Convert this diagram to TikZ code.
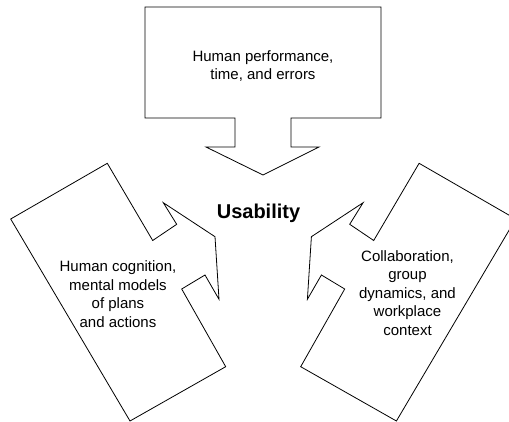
\documentclass[tikz,border=0pt]{standalone}
\usepackage{fontspec}
\setmainfont{Liberation Sans}
\begin{document}
\begin{tikzpicture}[x=1pt, y=-1pt,
  callout/.style={draw=black, line width=0.8pt, line join=miter, fill=white},
  boxtext/.style={align=center, inner sep=0pt, font=\fontsize{15}{18.5}\selectfont},
  hubtext/.style={inner sep=0pt, font=\bfseries\fontsize{20}{24}\selectfont}
]
  \useasboundingbox (0,0) rectangle (509,422);
  \clip (0,0) rectangle (509,422);

  % top box, arrow pointing down
  \draw[callout] (145,7) -- (381,7) -- (381,118) -- (291,118) -- (291,147)
    -- (319,147) -- (263,175) -- (206,147) -- (235,147) -- (235,118)
    -- (145,118) -- cycle;

  % left box, tilted, arrow pointing right
  \draw[callout] (10.7,219) -- (107.3,163.3) -- (152.7,240.5) -- (176.7,224.3)
    -- (163.3,202.7) -- (215,236.7) -- (219,299.3) -- (205,275)
    -- (181.7,289) -- (225.7,366.7) -- (130,421) -- cycle;

  % right box, mirror of the left one
  \draw[callout] (515.7,219) -- (419.1,163.3) -- (373.7,240.5) -- (349.7,224.3)
    -- (363.1,202.7) -- (311.4,236.7) -- (307.4,299.3) -- (321.4,275)
    -- (344.7,289) -- (300.7,366.7) -- (396.4,421) -- cycle;

  \node[boxtext] (perf)   at (263,66)    {Human performance,\\time, and errors};
  \node[hubtext] (usab)   at (258.5,213) {Usability};
  \node[boxtext] (cogn)   at (118,294)   {Human cognition,\\mental models\\of plans\\and actions};
  \node[boxtext] (collab) at (407.5,293) {Collaboration,\\group\\dynamics, and\\workplace\\context};
\end{tikzpicture}
\end{document}
